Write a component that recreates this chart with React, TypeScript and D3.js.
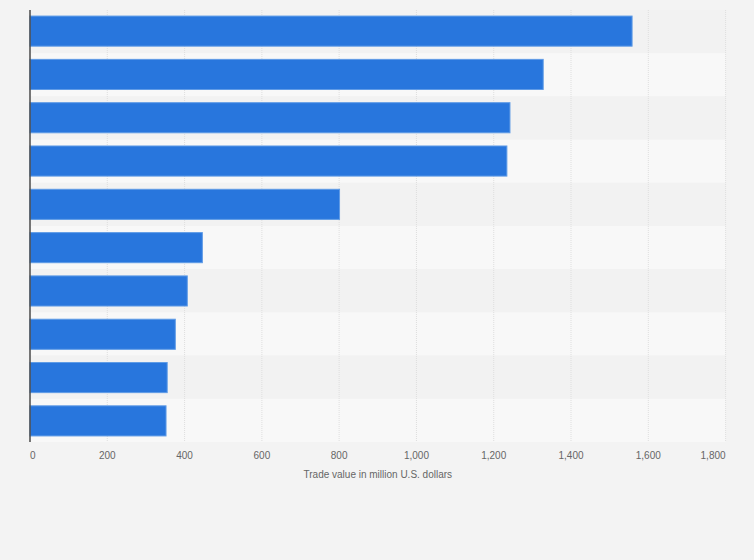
import React from "react";
import * as d3 from "d3";

const categories = ["1", "2", "3", "4", "5", "6", "7", "8", "9", "10"];
const values = [1558, 1328, 1242, 1234, 801, 446, 407, 376, 355, 352];
const tickValues = [0, 200, 400, 600, 800, 1000, 1200, 1400, 1600, 1800];
const axisTitle = "Trade value in million U.S. dollars";

const W = 754;
const H = 560;
const left = 30;
const right = 725.6;
const top = 10;
const bottom = 442;

export default function App() {
  const x = d3.scaleLinear().domain([0, 1800]).range([left, right]);
  const band = d3.scaleBand<string>().domain(categories).range([top, bottom]).padding(0);
  const bar = d3
    .scaleBand<string>()
    .domain(categories)
    .range([top, bottom])
    .paddingInner(0.305)
    .paddingOuter(0.14);
  const fmt = d3.format(",");
  const font = "Arial, 'Liberation Sans', Helvetica, sans-serif";

  return (
    <div style={{ position: "absolute", left: 0, top: 0, width: W, height: H }}>
      <svg width={W} height={H} style={{ display: "block" }}>
        <rect x={0} y={0} width={W} height={H} fill="#f3f3f3" />
        {categories.map((c, i) => (
          <rect
            key={"bg" + c}
            x={left}
            y={band(c)!}
            width={right - left}
            height={band.bandwidth()}
            fill={i % 2 === 0 ? "#f2f2f2" : "#f8f8f8"}
          />
        ))}
        {tickValues.slice(1).map((t) => (
          <line
            key={"g" + t}
            x1={x(t)}
            x2={x(t)}
            y1={top}
            y2={bottom}
            stroke="#dedede"
            strokeWidth={1}
            strokeDasharray="1,1"
          />
        ))}
        {categories.map((c, i) => (
          <rect
            key={"b" + c}
            x={x(0)}
            y={bar(c)!}
            width={x(values[i]) - x(0)}
            height={bar.bandwidth()}
            fill="#2876dd"
            stroke="#5f9be6"
            strokeWidth={1}
          />
        ))}
        <line x1={left} x2={left} y1={top} y2={bottom} stroke="#4a4a4a" strokeWidth={1.5} />
        {tickValues.map((t, i) => (
          <text
            key={"t" + t}
            x={x(t)}
            y={459}
            textAnchor={i === 0 ? "start" : i === tickValues.length - 1 ? "end" : "middle"}
            fontFamily={font}
            fontSize={10}
            fill="#666"
          >
            {fmt(t)}
          </text>
        ))}
        <text
          x={(left + right) / 2}
          y={478}
          textAnchor="middle"
          fontFamily={font}
          fontSize={10}
          fill="#666"
        >
          {axisTitle}
        </text>
      </svg>
    </div>
  );
}
